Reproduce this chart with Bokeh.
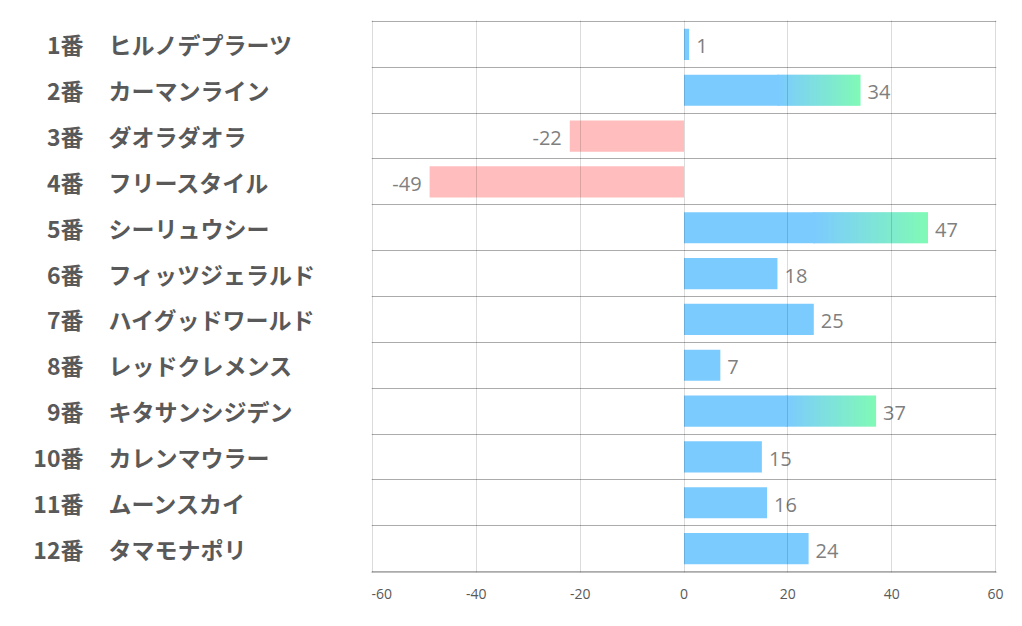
import numpy as np
from bokeh.plotting import figure
from bokeh.layouts import row
from bokeh.models import Range1d, FixedTicker, ColumnDataSource
from bokeh.core.properties import value
from bokeh.embed import file_html
from bokeh.resources import INLINE

# ---- data ----
numbers = ["1番", "2番", "3番", "4番", "5番", "6番", "7番", "8番", "9番", "10番", "11番", "12番"]
names = ["ヒルノデプラーツ", "カーマンライン", "ダオラダオラ", "フリースタイル", "シーリュウシー",
         "フィッツジェラルド", "ハイグッドワールド", "レッドクレメンス", "キタサンシジデン",
         "カレンマウラー", "ムーンスカイ", "タマモナポリ"]
values = [1, 34, -22, -49, 47, 18, 25, 7, 37, 15, 16, 24]
x_ticks = [-60, -40, -20, 0, 20, 40, 60]
gradient_threshold = 30

# ---- styles ----
BLUE = (124, 203, 255)
GREEN = (128, 250, 182)
PINK = "#FFBDBD"
BLUE_HEX = "#%02x%02x%02x" % BLUE
BAR_H = 0.68
GRAD_START = 0.53
N_GRAD = 64

TOP, BOTTOM = 20, 46
FRAME_H = 552
HEIGHT = TOP + FRAME_H + BOTTOM
LABEL_W = 371
FRAME_W = 625
MAIN_W = 643

n = len(values)
ys = list(range(n))
ypad = 1.0 / (FRAME_H / n)          # ~1px in data units
xpad = 1.0 * (x_ticks[-1] - x_ticks[0]) / FRAME_W
y_range = Range1d(start=n - 0.5 + ypad, end=-0.5 - ypad)

# ---- label figure ----
lab = figure(width=LABEL_W, height=HEIGHT, x_range=Range1d(0, LABEL_W), y_range=y_range,
             x_axis_location=None, y_axis_location=None, toolbar_location=None,
             output_backend="svg", min_border_left=0, min_border_right=0,
             min_border_top=TOP, min_border_bottom=BOTTOM, outline_line_color=None,
             background_fill_color="white", border_fill_color="white")
lab.xgrid.visible = False
lab.ygrid.visible = False
lab_src = ColumnDataSource(dict(y=ys, num=numbers, name=names))
lab.text(x=83, y="y", text="num", source=lab_src, text_font=value("Noto Sans CJK JP"),
         text_font_style="bold", text_font_size="23px", text_color="#595959",
         text_align="right", text_baseline="middle")
lab.text(x=108, y="y", text="name", source=lab_src, text_font=value("Noto Sans CJK JP"),
         text_font_style="bold", text_font_size="23px", text_color="#595959",
         text_align="left", text_baseline="middle")

# ---- main figure ----
p = figure(width=MAIN_W, height=HEIGHT,
           x_range=Range1d(x_ticks[0] - xpad, x_ticks[-1] + xpad), y_range=y_range,
           y_axis_location=None, toolbar_location=None, output_backend="svg",
           min_border_left=0, min_border_right=MAIN_W - FRAME_W,
           min_border_top=TOP, min_border_bottom=BOTTOM, outline_line_color=None,
           background_fill_color="white", border_fill_color="white")

# solid parts of bars
left, right, colors, qy = [], [], [], []
gx, gy, gw = [], [], []
for y, v in zip(ys, values):
    if v >= gradient_threshold:
        s = GRAD_START * v
        left.append(0); right.append(s + 0.3); colors.append(BLUE_HEX); qy.append(y)
        gx.append((s + v) / 2); gy.append(y); gw.append(v - s)
    else:
        left.append(min(0, v)); right.append(max(0, v)); qy.append(y)
        colors.append(BLUE_HEX if v >= 0 else PINK)

bar_src = ColumnDataSource(dict(left=left, right=right, y=qy, color=colors))
p.hbar(y="y", left="left", right="right", height=BAR_H, source=bar_src,
       fill_color="color", line_color=None)

# gradient ends (blue -> green)
t = np.linspace(0, 1, N_GRAD)
grad = np.zeros((1, N_GRAD), dtype=np.uint32)
view = grad.view(dtype=np.uint8).reshape((1, N_GRAD, 4))
for i in range(3):
    view[0, :, i] = np.round(BLUE[i] + (GREEN[i] - BLUE[i]) * t).astype(np.uint8)
view[0, :, 3] = 255
grad_src = ColumnDataSource(dict(image=[grad] * len(gx), x=gx, y=gy, dw=gw, dh=[BAR_H] * len(gx)))
p.image_rgba(image="image", x="x", y="y", dw="dw", dh="dh", anchor="center", source=grad_src)

# value labels
val_src = ColumnDataSource(dict(
    x=values, y=ys, text=[str(v) for v in values],
    align=["left" if v >= 0 else "right" for v in values],
    off=[7 if v >= 0 else -8 for v in values]))
p.text(x="x", y="y", text="text", source=val_src, x_offset="off", y_offset=2,
       text_align="align", text_baseline="middle", text_font=value("Open Sans"),
       text_font_size="20px", text_color="#7f7f7f")

# grids
p.xgrid.ticker = FixedTicker(ticks=x_ticks)
p.xgrid.grid_line_color = "black"
p.xgrid.grid_line_alpha = 0.14
p.xgrid.level = "overlay"
p.ygrid.ticker = FixedTicker(ticks=[i - 0.5 for i in range(n + 1)])
p.ygrid.grid_line_color = "#ababab"

# x axis
p.xaxis.ticker = FixedTicker(ticks=x_ticks)
p.xaxis.major_label_overrides = {t_: str(t_) for t_ in x_ticks}
p.xaxis.axis_line_color = "#bfbfbf"
p.xaxis.major_tick_line_color = None
p.xaxis.minor_tick_line_color = None
p.xaxis.major_label_text_font = "Open Sans"
p.xaxis.major_label_text_font_size = "14px"
p.xaxis.major_label_text_color = "#595959"
p.xaxis.major_label_standoff = 10

layout = row(lab, p, spacing=0)
open("out.html", "w").write(file_html(layout, INLINE))
